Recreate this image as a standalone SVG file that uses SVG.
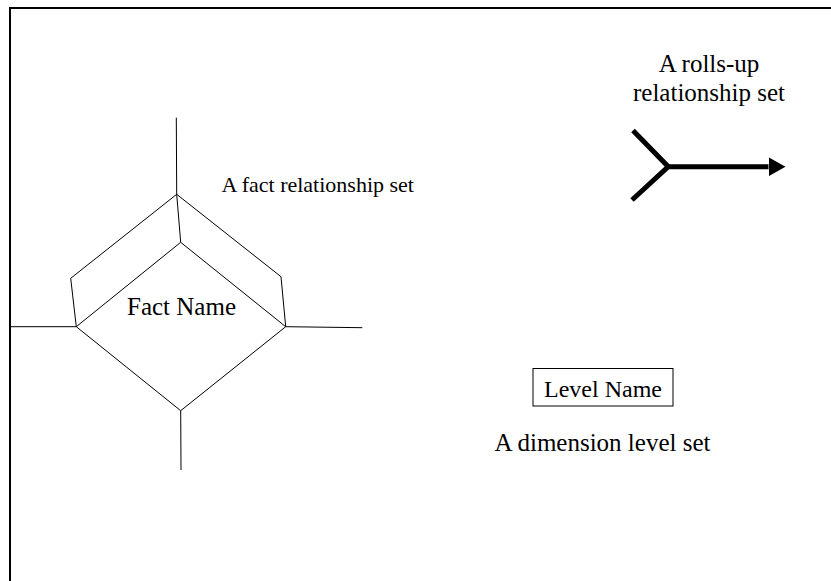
<svg xmlns="http://www.w3.org/2000/svg" width="831" height="581" viewBox="0 0 831 581">
  <style>
    .frame { fill: none; stroke: #000; stroke-width: 2; }
    .thin { fill: none; stroke: #000; stroke-width: 1; stroke-linejoin: miter; }
    .bold { fill: none; stroke: #000; stroke-width: 5; }
    .lbl { font-family: "Liberation Serif", "Times New Roman", serif; fill: #000; }
  </style>
  <defs>
    <marker id="head" viewBox="0 0 17 19" refX="0" refY="9.5" markerWidth="17" markerHeight="19" markerUnits="userSpaceOnUse" orient="auto">
      <path d="M0,0 L17,9.5 L0,19 Z" fill="#000"/>
    </marker>
  </defs>
  <rect width="831" height="581" fill="#fff"/>

  <!-- page frame (open to the right and bottom) -->
  <path class="frame" d="M10,581 V8 H831"/>

  <!-- fact relationship set: diamond with a raised back -->
  <g id="fact">
    <path class="thin" d="M180.7,242.3 L285.7,326.7 L180.7,410.7 L76.3,326.7 Z"/>
    <path class="thin" d="M76.3,326.7 L70.7,278.3 L176.7,194.3 L281,276.7 L285.7,326.7"/>
    <path class="thin" d="M176.7,194.3 L180.7,242.3"/>
    <text class="lbl" x="181.5" y="315" font-size="25" text-anchor="middle">Fact Name</text>
  </g>

  <!-- legs of the fact relationship -->
  <g id="connectors">
    <path class="thin" d="M176.3,117.7 L176.7,194.3"/>
    <path class="thin" d="M11,326.7 L76.3,326.7"/>
    <path class="thin" d="M285.7,326.7 L362.3,327.7"/>
    <path class="thin" d="M180.7,410.7 L181,470"/>
  </g>

  <g id="fact-caption">
    <text class="lbl" x="221.5" y="191.7" font-size="22">A fact relationship set</text>
  </g>

  <!-- rolls-up relationship symbol -->
  <g id="rollup">
    <path class="bold" d="M633,130.5 L668.3,166.7 L632,200"/>
    <path class="bold" d="M668.3,166.7 H768.5" marker-end="url(#head)"/>
    <text class="lbl" x="709" y="72" font-size="25" text-anchor="middle">A rolls-up</text>
    <text class="lbl" x="709" y="101" font-size="25" text-anchor="middle">relationship set</text>
  </g>

  <!-- dimension level set -->
  <g id="level">
    <rect x="533" y="368.5" width="140" height="37.5" fill="none" stroke="#000" stroke-width="1"/>
    <text class="lbl" x="603" y="397.3" font-size="24" text-anchor="middle">Level Name</text>
    <text class="lbl" x="602.5" y="451" font-size="25" text-anchor="middle">A dimension level set</text>
  </g>
</svg>
